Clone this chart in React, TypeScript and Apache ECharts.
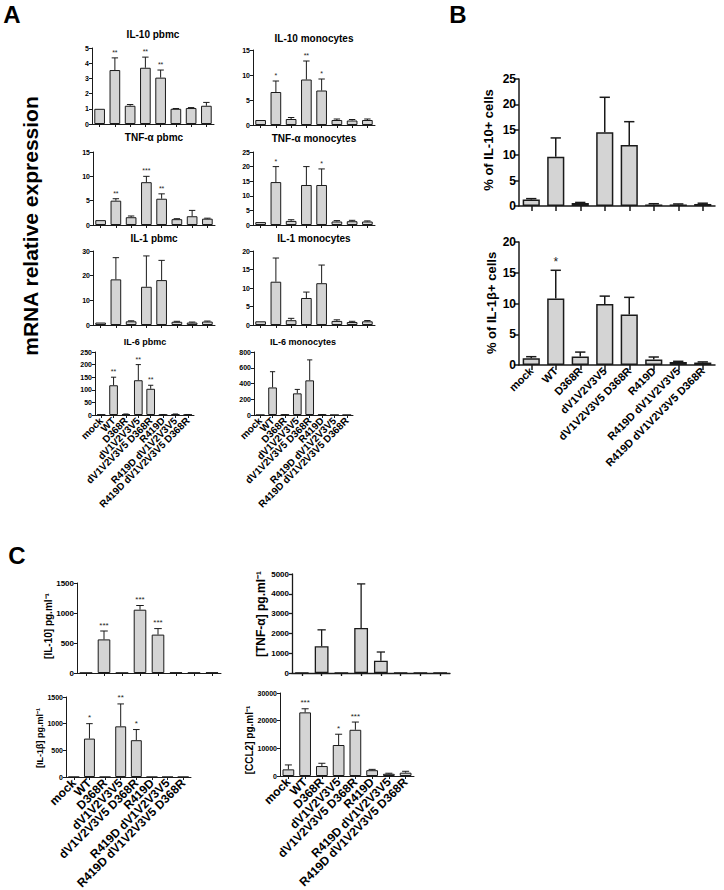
import React, { useEffect, useRef } from 'react';
import * as echarts from 'echarts';

const categories = ['mock', 'WT', 'D368R', 'dV1V2V3V5', 'dV1V2V3V5 D368R', 'R419D', 'R419D dV1V2V3V5', 'R419D dV1V2V3V5 D368R'];

// Panel A : mRNA relative expression (mean, mean+SEM, significance)
const il10Pbmc = [1.0, 3.55, 1.2, 3.7, 3.05, 1.0, 1.05, 1.2];
const il10PbmcErr = [1.0, 4.35, 1.28, 4.4, 3.55, 1.02, 1.08, 1.42];
const il10PbmcSig = ['', '**', '', '**', '**', '', '', ''];

const il10Mono = [1.0, 6.6, 1.2, 9.1, 6.9, 1.0, 0.9, 1.0];
const il10MonoErr = [1.0, 8.8, 1.5, 12.8, 9.2, 1.2, 1.1, 1.2];
const il10MonoSig = ['', '*', '', '**', '*', '', '', ''];

const tnfPbmc = [1.0, 5.0, 1.6, 8.8, 5.4, 1.2, 1.8, 1.3];
const tnfPbmcErr = [1.0, 5.4, 1.85, 10.0, 6.4, 1.3, 3.0, 1.4];
const tnfPbmcSig = ['', '**', '', '***', '**', '', '', ''];

const tnfMono = [1.0, 14.7, 1.4, 13.7, 13.7, 1.2, 1.3, 1.2];
const tnfMonoErr = [1.0, 20.0, 1.8, 20.0, 19.2, 1.5, 1.6, 1.4];
const tnfMonoSig = ['', '*', '', '', '*', '', '', ''];

const il1Pbmc = [1.0, 18.5, 1.5, 15.5, 18.2, 1.3, 1.0, 1.4];
const il1PbmcErr = [1.0, 27.3, 1.7, 28.0, 26.2, 1.5, 1.2, 1.6];
const il1PbmcSig = ['', '', '', '', '', '', '', ''];

const il1Mono = [1.0, 11.7, 1.3, 7.3, 11.3, 1.1, 0.8, 1.0];
const il1MonoErr = [1.0, 18.1, 1.8, 8.9, 16.2, 1.4, 1.0, 1.2];
const il1MonoSig = ['', '', '', '', '', '', '', ''];

const il6Pbmc = [2, 118, 3, 138, 104, 1, 3, 1];
const il6PbmcErr = [2, 150, 4, 200, 118, 2, 4, 2];
const il6PbmcSig = ['', '**', '', '**', '**', '', '', ''];

const il6Mono = [0, 350, 4, 275, 440, 5, 0, 0];
const il6MonoErr = [0, 550, 5, 325, 700, 6, 0, 0];
const il6MonoSig = ['', '', '', '', '', '', '', ''];

// Panel B : % of positive cells
const il10Cells = [1.3, 9.7, 0.6, 14.5, 12.0, 0.3, 0.3, 0.4];
const il10CellsErr = [1.45, 13.4, 0.7, 21.4, 16.6, 0.45, 0.4, 0.55];
const il10CellsSig = ['', '', '', '', '', '', '', ''];

const il1bCells = [1.1, 10.8, 1.4, 9.9, 8.2, 0.9, 0.5, 0.4];
const il1bCellsErr = [1.35, 15.4, 2.1, 11.2, 11.0, 1.3, 0.6, 0.5];
const il1bCellsSig = ['', '*', '', '', '', '', '', ''];

// Panel C : secreted cytokines, pg/ml
const il10Conc = [3, 560, 3, 1055, 640, 8, 5, 8];
const il10ConcErr = [3, 700, 3, 1125, 740, 8, 5, 8];
const il10ConcSig = ['', '***', '', '***', '***', '', '', ''];

const tnfConc = [20, 1350, 10, 2270, 620, 20, 10, 5];
const tnfConcErr = [20, 2180, 10, 4500, 1060, 20, 10, 5];
const tnfConcSig = ['', '', '', '', '', '', '', ''];

const il1bConc = [0, 720, 0, 950, 690, 0, 0, 0];
const il1bConcErr = [0, 1000, 0, 1370, 890, 0, 0, 0];
const il1bConcSig = ['', '*', '', '**', '*', '', '', ''];

const ccl2Conc = [2400, 23000, 3600, 11200, 16700, 2100, 800, 1200];
const ccl2ConcErr = [4000, 24300, 4600, 15100, 19500, 2400, 1000, 1700];
const ccl2ConcSig = ['', '***', '', '*', '***', '', '', ''];

const FONT = '"Liberation Sans", Arial, Helvetica, sans-serif';
const INK = '#1a1a1a';

type Cfg = {
  left: number; top: number; width: number; bottom: number;
  max: number; interval: number;
  means: number[]; errs: number[]; sig: string[];
  yFont: number; xLabels: boolean; xFont: number; starFont: number;
  lw: number; tick: number; bw: number;
};

const base = { yFont: 7, xLabels: false, xFont: 10, starFont: 7, lw: 1, tick: 3, bw: 1 };

const charts: Cfg[] = [
  { ...base, left: 92, top: 48, width: 122, bottom: 124, max: 5, interval: 1, means: il10Pbmc, errs: il10PbmcErr, sig: il10PbmcSig },
  { ...base, left: 253, top: 50, width: 122, bottom: 125, max: 15, interval: 5, means: il10Mono, errs: il10MonoErr, sig: il10MonoSig },
  { ...base, left: 93, top: 152, width: 122, bottom: 225, max: 15, interval: 5, means: tnfPbmc, errs: tnfPbmcErr, sig: tnfPbmcSig },
  { ...base, left: 253, top: 152, width: 122, bottom: 225, max: 25, interval: 5, means: tnfMono, errs: tnfMonoErr, sig: tnfMonoSig },
  { ...base, left: 93, top: 251, width: 122, bottom: 325, max: 30, interval: 10, means: il1Pbmc, errs: il1PbmcErr, sig: il1PbmcSig },
  { ...base, left: 253, top: 251, width: 122, bottom: 325, max: 20, interval: 5, means: il1Mono, errs: il1MonoErr, sig: il1MonoSig },
  { ...base, left: 95, top: 352, width: 99, bottom: 415, max: 250, interval: 50, means: il6Pbmc, errs: il6PbmcErr, sig: il6PbmcSig, xLabels: true },
  { ...base, left: 254, top: 352, width: 99, bottom: 415, max: 800, interval: 200, means: il6Mono, errs: il6MonoErr, sig: il6MonoSig, xLabels: true },
  { ...base, left: 519, top: 79, width: 196, bottom: 206, max: 25, interval: 5, means: il10Cells, errs: il10CellsErr, sig: il10CellsSig, yFont: 12, starFont: 12, lw: 1.5, tick: 5, bw: 1.5 },
  { ...base, left: 519, top: 242, width: 196, bottom: 365, max: 20, interval: 5, means: il1bCells, errs: il1bCellsErr, sig: il1bCellsSig, yFont: 12, starFont: 12, lw: 1.5, tick: 5, bw: 1.5, xLabels: true, xFont: 11 },
  { ...base, left: 77, top: 583, width: 144, bottom: 673, max: 1500, interval: 500, means: il10Conc, errs: il10ConcErr, sig: il10ConcSig, yFont: 8, starFont: 8 },
  { ...base, left: 292, top: 574, width: 158, bottom: 673, max: 5000, interval: 1000, means: tnfConc, errs: tnfConcErr, sig: tnfConcSig, yFont: 8, starFont: 9, lw: 1.3, bw: 1.3 },
  { ...base, left: 66, top: 697, width: 125, bottom: 777, max: 1500, interval: 500, means: il1bConc, errs: il1bConcErr, sig: il1bConcSig, yFont: 7, starFont: 8, xLabels: true, xFont: 12 },
  { ...base, left: 280, top: 693, width: 134, bottom: 776, max: 30000, interval: 10000, means: ccl2Conc, errs: ccl2ConcErr, sig: ccl2ConcSig, yFont: 7, starFont: 8, xLabels: true, xFont: 12 },
];

const chartTitles = [
  { text: 'IL-10 pbmc', x: 153, y: 34, size: 10 },
  { text: 'IL-10 monocytes', x: 314, y: 38, size: 10 },
  { text: 'TNF-α pbmc', x: 154, y: 137, size: 10 },
  { text: 'TNF-α monocytes', x: 314, y: 138, size: 10 },
  { text: 'IL-1 pbmc', x: 154, y: 238, size: 10 },
  { text: 'IL-1 monocytes', x: 314, y: 238, size: 10 },
  { text: 'IL-6 pbmc', x: 145, y: 342, size: 9 },
  { text: 'IL-6 monocytes', x: 303, y: 342, size: 9 },
];

const axisTitles = [
  { text: 'mRNA relative expression', x: 30, y: 226, size: 21 },
  { text: '% of IL-10+ cells', x: 488, y: 140, size: 13 },
  { text: '% of IL-1β+ cells', x: 491, y: 303, size: 13 },
  { text: '[IL-10] pg.ml⁻¹', x: 48, y: 626, size: 10 },
  { text: '[TNF-α] pg.ml⁻¹', x: 261, y: 614, size: 12 },
  { text: '[IL-1β] pg.ml⁻¹', x: 40, y: 738, size: 9 },
  { text: '[CCL2] pg.ml⁻¹', x: 249, y: 740, size: 10 },
];

const panelLetters = [
  { text: 'A', x: 12, y: 14 },
  { text: 'B', x: 458, y: 14 },
  { text: 'C', x: 17, y: 555 },
];

function buildOption() {
  const grid: any[] = [];
  const xAxis: any[] = [];
  const yAxis: any[] = [];
  const series: any[] = [];
  charts.forEach((c, i) => {
    const line = { color: INK, width: c.lw };
    grid.push({ left: c.left, top: c.top, width: c.width, height: c.bottom - c.top, containLabel: false, outerBoundsMode: 'none' });
    xAxis.push({
      type: 'category', gridIndex: i, data: categories, boundaryGap: true,
      axisLine: { show: true, lineStyle: line },
      axisTick: { show: true, alignWithLabel: true, interval: 0, length: c.tick, lineStyle: line },
      axisLabel: { show: c.xLabels, interval: 0, rotate: 45, fontSize: c.xFont, fontWeight: 'bold', color: '#000', fontFamily: FONT, margin: 4, hideOverlap: false },
      splitLine: { show: false },
    });
    yAxis.push({
      type: 'value', gridIndex: i, min: 0, max: c.max, interval: c.interval,
      axisLine: { show: true, lineStyle: line },
      axisTick: { show: true, length: c.tick, lineStyle: line },
      axisLabel: { fontSize: c.yFont, fontWeight: 'bold', color: '#000', fontFamily: FONT, margin: 3, formatter: (v: number) => String(v) },
      splitLine: { show: false },
    });
    series.push({
      type: 'bar', xAxisIndex: i, yAxisIndex: i, data: c.means, barWidth: '70%', silent: true,
      itemStyle: { color: '#d4d4d4', borderColor: INK, borderWidth: c.bw },
    });
    const sig = c.sig;
    const sf = c.starFont;
    const lw = c.lw;
    series.push({
      type: 'custom', xAxisIndex: i, yAxisIndex: i, silent: true, z: 5,
      data: c.means.map((m, k) => [k, m, c.errs[k]]),
      renderItem: (params: any, api: any) => {
        const k = api.value(0);
        const m = api.value(1);
        const e = api.value(2);
        const top = api.coord([k, m]);
        const cap = api.coord([k, e]);
        const bw = api.size([1, 0])[0] * 0.7;
        const children: any[] = [];
        if (e > m) {
          children.push({ type: 'line', shape: { x1: top[0], y1: top[1], x2: top[0], y2: cap[1] }, style: { stroke: INK, lineWidth: lw } });
          children.push({ type: 'line', shape: { x1: top[0] - bw * 0.3, y1: cap[1], x2: top[0] + bw * 0.3, y2: cap[1] }, style: { stroke: INK, lineWidth: lw } });
        }
        const s = sig[params.dataIndex];
        if (s) {
          children.push({
            type: 'text',
            style: { text: s, x: top[0], y: Math.min(cap[1], top[1]) - 2, align: 'center', verticalAlign: 'bottom', textAlign: 'center', textVerticalAlign: 'bottom', fontSize: sf, fontFamily: FONT, fill: '#222' },
          });
        }
        return { type: 'group', children };
      },
    });
  });

  const graphic: any[] = [];
  chartTitles.forEach((t) => graphic.push({
    type: 'text', x: t.x, y: t.y,
    style: { text: t.text, fontSize: t.size, fontWeight: 'bold', fontFamily: FONT, fill: '#000', align: 'center', verticalAlign: 'middle', textAlign: 'center', textVerticalAlign: 'middle' },
  }));
  axisTitles.forEach((t) => graphic.push({
    type: 'text', x: t.x, y: t.y, rotation: Math.PI / 2,
    style: { text: t.text, fontSize: t.size, fontWeight: 'bold', fontFamily: FONT, fill: '#000', align: 'center', verticalAlign: 'middle', textAlign: 'center', textVerticalAlign: 'middle' },
  }));
  panelLetters.forEach((t) => graphic.push({
    type: 'text', x: t.x, y: t.y,
    style: { text: t.text, fontSize: 24, fontWeight: 'bold', fontFamily: FONT, fill: '#000', align: 'center', verticalAlign: 'middle', textAlign: 'center', textVerticalAlign: 'middle' },
  }));

  return {
    animation: false,
    backgroundColor: '#ffffff',
    textStyle: { fontFamily: FONT },
    grid, xAxis, yAxis, series, graphic,
  };
}

export default function App() {
  const ref = useRef<HTMLDivElement>(null);
  useEffect(() => {
    if (!ref.current) return;
    const chart = echarts.init(ref.current, undefined, { renderer: 'svg' });
    chart.setOption(buildOption() as any);
    return () => chart.dispose();
  }, []);
  return <div ref={ref} style={{ position: 'absolute', left: 0, top: 0, width: 724, height: 890, background: '#fff' }} />;
}
